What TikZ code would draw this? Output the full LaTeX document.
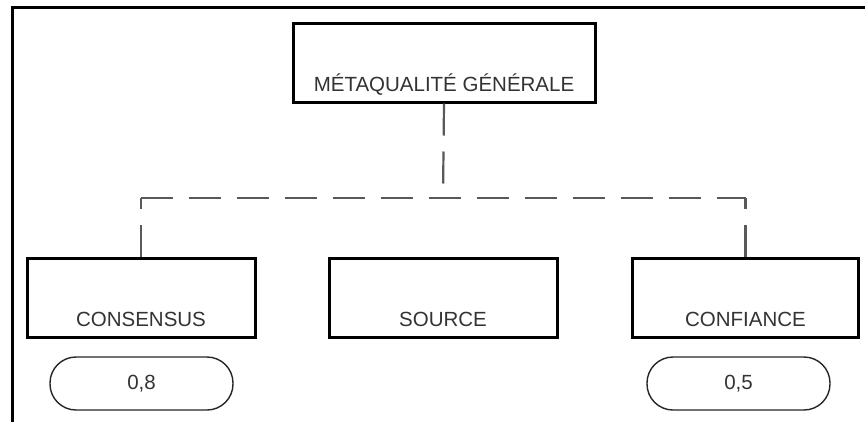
\documentclass[tikz,border=0pt]{standalone}
\usepackage{fontspec}
\setmainfont{Liberation Sans}
\begin{document}
\begin{tikzpicture}[x=1pt,y=-1pt,
  frame/.style={draw=black, line width=3pt},
  box/.style={draw=black, line width=3pt, fill=white, minimum width=#1,
    minimum height=79pt, inner sep=0pt},
  lbl/.style={text=black!80, font=\fontsize{20.5}{24}\selectfont, inner sep=0pt, anchor=base},
  pill/.style={draw=black!85, line width=1.4pt, minimum width=183pt, minimum height=53pt,
    rounded corners=26pt, inner sep=0pt, text=black!80, font=\fontsize{20.5}{24}\selectfont},
  link/.style={draw=black!65, line width=2.2pt, dash pattern=on 32pt off 16pt}
]
\useasboundingbox[fill=white] (0,0) rectangle (865,421);

% open frame: top and left edges only
\draw[frame] (866,7) -| (12,422);

% boxes
\node[box=302] (top) at (444,62.5) {};
\node[box=228] (cons) at (141,297.5) {};
\node[box=228] (src) at (443,297.5) {};
\node[box=226] (conf) at (745.5,297.5) {};

% box labels, set low in each box
\node[lbl] (topT) at ([yshift=12]top.south) {MÉTAQUALITÉ GÉNÉRALE};
\node[lbl] (consT) at ([yshift=12]cons.south) {CONSENSUS};
\node[lbl] (srcT) at ([yshift=12]src.south) {SOURCE};
\node[lbl] (confT) at ([yshift=12]conf.south) {CONFIANCE};

% values
\node[pill] (v8) at (141.5,383.5) {0,8};
\node[pill] (v5) at (738.5,383.5) {0,5};

% dashed tree links
\coordinate (bar) at (443,198);
\coordinate (lc) at (cons.north |- bar);
\coordinate (rc) at (conf.north |- bar);
\draw[link] (top.south) -- (bar);
\draw[link] (lc) -- (rc);
\draw[link] (cons.north) -- (lc);
\draw[link] (conf.north) -- (rc);
\end{tikzpicture}
\end{document}
